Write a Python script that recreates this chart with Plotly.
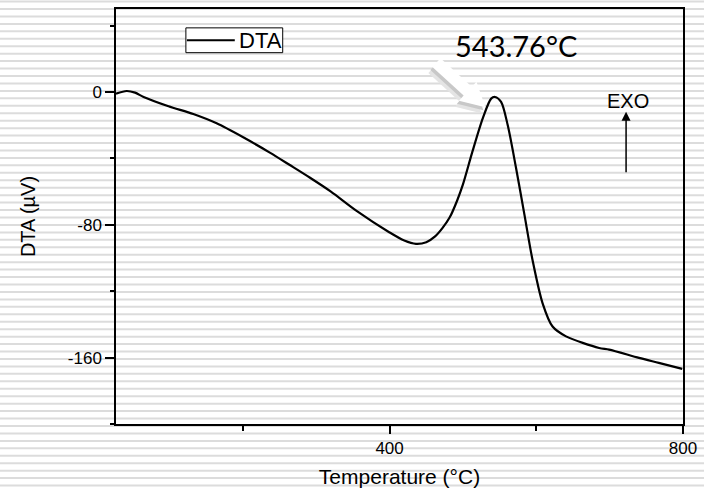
import math
import plotly.graph_objects as go

# Data
temperature = [27, 41.5, 53, 64.6, 98.6, 132.4, 164.2, 200.4, 236.7, 264, 291, 320,
               355, 400, 420, 436, 450, 462, 472, 482, 492, 500, 513, 527, 538.4, 543.76, 552,
               561, 572.4, 583.7, 595, 608.6, 622.2, 640.5, 685.7, 699.3, 740, 767, 799]
dta = [-1, 0.6, -0.4, -3, -8.6, -13.3, -18.9, -27.3, -36.5, -44, -51.5, -60,
       -71.6, -84.6, -89.5, -91.5, -90.5, -87, -82, -75.5, -65.5, -55.7, -35.8, -15.9, -4, -3, -6,
       -19.9, -45.8, -73.6, -101.5, -127.3, -141.3, -147.2, -154.2, -155.2, -160.2, -163.2, -166.8]

x_major = [400, 800]
x_major_text = ["400", "800"]
x_minor = [200, 600]
y_major = [-160, -80, 0]
y_major_text = ["-160", "-80", "0"]
y_minor = [-200, -120, -40, 40]
peak_label = "543.76°C"
legend_label = "DTA"

FONT = "Liberation Sans, Arial, sans-serif"
X_RANGE = [27, 800]
Y_RANGE = [-200, 50]
ML, MR, MT, MB = 116, 20, 7, 67
W, H = 704, 492
PX0, PX1, PY0, PY1 = ML, W - MR, MT, H - MB


def px2x(px):
    return X_RANGE[0] + (px - PX0) / (PX1 - PX0) * (X_RANGE[1] - X_RANGE[0])


def py2y(py):
    return Y_RANGE[1] - (py - PY0) / (PY1 - PY0) * (Y_RANGE[1] - Y_RANGE[0])


def px2paper(px):
    return (px - PX0) / (PX1 - PX0)


def py2paper(py):
    return (PY1 - py) / (PY1 - PY0)


def arrow_path(tail, tip, shaft=6, head_w=13, head_l=24, dx=0, dy=0):
    vx, vy = tip[0] - tail[0], tip[1] - tail[1]
    L = math.hypot(vx, vy)
    ux, uy = vx / L, vy / L
    nx, ny = -uy, ux
    neck = (tip[0] - ux * head_l, tip[1] - uy * head_l)
    pts = [
        (tail[0] + nx * shaft, tail[1] + ny * shaft),
        (neck[0] + nx * shaft, neck[1] + ny * shaft),
        (neck[0] + nx * head_w, neck[1] + ny * head_w),
        tip,
        (neck[0] - nx * head_w, neck[1] - ny * head_w),
        (neck[0] - nx * shaft, neck[1] - ny * shaft),
        (tail[0] - nx * shaft, tail[1] - ny * shaft),
    ]
    s = "M " + " L ".join(f"{px2x(p[0] + dx):.3f},{py2y(p[1] + dy):.3f}" for p in pts) + " Z"
    return s


fig = go.Figure()
fig.add_trace(go.Scatter(x=temperature, y=dta, mode="lines", name=legend_label, showlegend=False,
                         line=dict(color="black", width=2.2, shape="spline", smoothing=0.8)))

# background horizontal stripes (decoration)
shapes = []
for k in range(-1, 66):
    yp = 1 - 7.5 * k / 418
    shapes.append(dict(type="line", xref="paper", yref="paper", x0=-0.3, x1=1.1,
                       y0=yp, y1=yp, line=dict(color="#dcdcdc", width=2), layer="below"))

# white pointer arrow with shadow
tail, tip = (437, 61), (486, 106)
shapes.append(dict(type="path", xref="x", yref="y", path=arrow_path(tail, tip, dx=-4, dy=6),
                   fillcolor="#e4e4e4", line=dict(width=0), layer="above"))
shapes.append(dict(type="path", xref="x", yref="y", path=arrow_path(tail, tip, dx=-2, dy=3),
                   fillcolor="#c8c8c8", line=dict(width=0), layer="above"))
shapes.append(dict(type="path", xref="x", yref="y", path=arrow_path(tail, tip),
                   fillcolor="white", line=dict(width=0), layer="above"))

# manual legend box
shapes.append(dict(type="rect", xref="paper", yref="paper", x0=px2paper(186), x1=px2paper(283),
                   y0=py2paper(51), y1=py2paper(26), fillcolor="white",
                   line=dict(color="black", width=1), layer="above"))
shapes.append(dict(type="line", xref="paper", yref="paper", x0=px2paper(187), x1=px2paper(235),
                   y0=py2paper(38.5), y1=py2paper(38.5), line=dict(color="black", width=2.2), layer="above"))

annotations = [
    dict(x=px2paper(237), y=py2paper(38.5), xref="paper", yref="paper", text=legend_label,
         showarrow=False, xanchor="left", yanchor="middle",
         font=dict(family=FONT, size=22, color="black")),
    dict(x=572.8, y=27.8, xref="x", yref="y", text=peak_label, showarrow=False,
         font=dict(family="Lato, sans-serif", size=29, color="black")),
    dict(x=722.4, y=-11.9, xref="x", yref="y", ax=0, ay=62, text="", showarrow=True,
         arrowhead=2, arrowsize=1.2, arrowwidth=1.5, arrowcolor="black"),
    dict(x=724.5, y=-5.7, xref="x", yref="y", text="EXO", showarrow=False,
         font=dict(family=FONT, size=20, color="black")),
]

fig.update_layout(
    width=W, height=H,
    margin=dict(l=ML, r=MR, t=MT, b=MB),
    paper_bgcolor="white", plot_bgcolor="rgba(0,0,0,0)",
    shapes=shapes, annotations=annotations,
    showlegend=False,
    font=dict(family=FONT, color="black"),
)
fig.update_xaxes(range=X_RANGE, showgrid=False, zeroline=False, showline=True,
                 linecolor="black", linewidth=1.5, mirror=True, ticks="outside",
                 tickvals=x_major, ticktext=x_major_text, ticklen=8, tickwidth=1.5, tickcolor="black",
                 tickfont=dict(family=FONT, size=17, color="black"),
                 minor=dict(tickvals=x_minor, ticks="outside", ticklen=5, tickwidth=1.5, tickcolor="black"),
                 title=dict(text="Temperature (°C)", font=dict(family=FONT, size=21, color="black"), standoff=12))
fig.update_yaxes(range=Y_RANGE, showgrid=False, zeroline=False, showline=True,
                 linecolor="black", linewidth=1.5, mirror=True, ticks="outside",
                 tickvals=y_major, ticktext=y_major_text, ticklen=9, tickwidth=1.5, tickcolor="black",
                 tickfont=dict(family=FONT, size=17, color="black"),
                 minor=dict(tickvals=y_minor, ticks="outside", ticklen=4, tickwidth=1.5, tickcolor="black"),
                 title=dict(text="DTA (µV)", font=dict(family=FONT, size=20, color="black"), standoff=27))

fig.write_html("out.html")
